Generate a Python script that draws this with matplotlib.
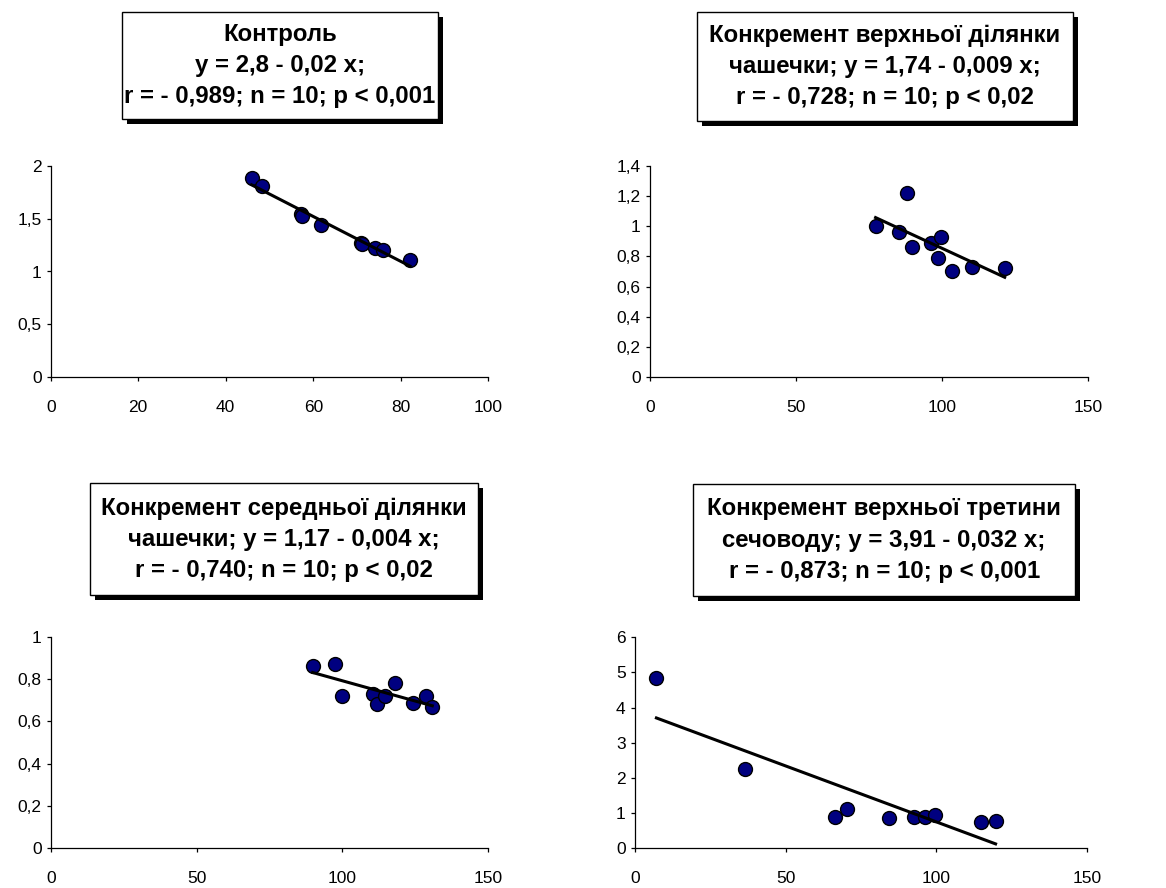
"""Four regression scatter panels with boxed titles (Excel-style)."""

import matplotlib

matplotlib.use("Agg")
import matplotlib.pyplot as plt
import numpy as np
from matplotlib.patches import Rectangle
from matplotlib.ticker import FuncFormatter, MultipleLocator

plt.rcParams["font.family"] = ["Liberation Sans", "DejaVu Sans"]

# --- data ---
ctrl_x = [45.9, 48.2, 57.2, 57.4, 61.8, 70.9, 71.2, 74.1, 76.0, 82.1]
ctrl_y = [1.88, 1.81, 1.54, 1.52, 1.44, 1.27, 1.26, 1.22, 1.20, 1.11]

upper_cup_x = [77.3, 85.3, 88.2, 89.8, 96.4, 99.6, 98.8, 103.5, 110.4, 121.5]
upper_cup_y = [1.00, 0.96, 1.22, 0.86, 0.89, 0.93, 0.79, 0.70, 0.73, 0.72]

mid_cup_x = [89.8, 97.4, 99.7, 110.6, 111.7, 114.6, 118.0, 124.3, 128.6, 130.8]
mid_cup_y = [0.86, 0.87, 0.72, 0.73, 0.68, 0.72, 0.78, 0.685, 0.72, 0.67]

ureter_x = [7.2, 36.7, 66.5, 70.5, 84.3, 92.6, 96.1, 99.6, 114.7, 119.6]
ureter_y = [4.85, 2.26, 0.90, 1.12, 0.85, 0.90, 0.90, 0.95, 0.74, 0.79]

titles = [
    "Контроль\ny = 2,8 - 0,02 x;\nr = - 0,989; n = 10; p < 0,001",
    "Конкремент верхньої ділянки\nчашечки; y = 1,74 - 0,009 x;\nr = - 0,728; n = 10; p < 0,02",
    "Конкремент середньої ділянки\nчашечки; y = 1,17 - 0,004 x;\nr = - 0,740; n = 10; p < 0,02",
    "Конкремент верхньої третини\nсечоводу; y = 3,91 - 0,032 x;\nr = - 0,873; n = 10; p < 0,001",
]

W, H = 1166, 888

panels = [
    # data, axes rect in px (left, top, right, bottom), xmax, xstep, ymax, ystep, title box px
    (ctrl_x, ctrl_y, (50.7, 165.7, 488.3, 377.3), 100, 20, 2, 0.5, (121.7, 11.7, 438, 119)),
    (upper_cup_x, upper_cup_y, (649.7, 165.7, 1088, 377.3), 150, 50, 1.4, 0.2, (696.7, 11.7, 1072.7, 121)),
    (mid_cup_x, mid_cup_y, (50.7, 636.7, 488.3, 848.3), 150, 50, 1, 0.2, (90, 483.3, 478, 595)),
    (ureter_x, ureter_y, (634.7, 637.3, 1087.3, 848.3), 150, 50, 6, 1, (693.3, 484, 1075, 596)),
]


def comma(v, _pos):
    return f"{v:g}".replace(".", ",")


fig = plt.figure(figsize=(W / 100, H / 100), dpi=100)

for (xs, ys, rect, xmax, xstep, ymax, ystep, box), title in zip(panels, titles):
    l, t, r, b = rect
    ax = fig.add_axes([l / W, 1 - b / H, (r - l) / W, (b - t) / H])
    ax.scatter(xs, ys, s=100, color="#000080", edgecolor="black", linewidth=1.0, zorder=3, clip_on=False)
    k, c = np.polyfit(xs, ys, 1)
    xl = np.array([min(xs), max(xs)])
    ax.plot(xl, c + k * xl, color="black", lw=2.2, zorder=4)
    ax.set_xlim(0, xmax)
    ax.set_ylim(0, ymax)
    ax.xaxis.set_major_locator(MultipleLocator(xstep))
    ax.yaxis.set_major_locator(MultipleLocator(ystep))
    ax.xaxis.set_major_formatter(FuncFormatter(comma))
    ax.yaxis.set_major_formatter(FuncFormatter(comma))
    for side in ("top", "right"):
        ax.spines[side].set_visible(False)
    for side in ("left", "bottom"):
        ax.spines[side].set_linewidth(0.9)
    ax.tick_params(direction="out", length=3, width=0.9, labelsize=12.5)
    ax.tick_params(axis="x", pad=13)
    ax.tick_params(axis="y", pad=3.5)

    # title box with a drop shadow
    bl, bt, br, bb = box
    sh = 5
    fig.patches.append(Rectangle(((bl + sh) / W, 1 - (bb + sh) / H), (br - bl) / W, (bb - bt) / H,
                                 transform=fig.transFigure, facecolor="black", edgecolor="none", zorder=5))
    fig.patches.append(Rectangle((bl / W, 1 - bb / H), (br - bl) / W, (bb - bt) / H,
                                 transform=fig.transFigure, facecolor="white", edgecolor="black",
                                 linewidth=1.0, zorder=6))
    fig.text((bl + br) / 2 / W, 1 - (bt + bb) / 2 / H, title, ha="center", va="center",
             fontsize=17.3, fontweight="bold", linespacing=1.45, zorder=7)

fig.savefig("out.png", dpi=100)
plt.close(fig)
